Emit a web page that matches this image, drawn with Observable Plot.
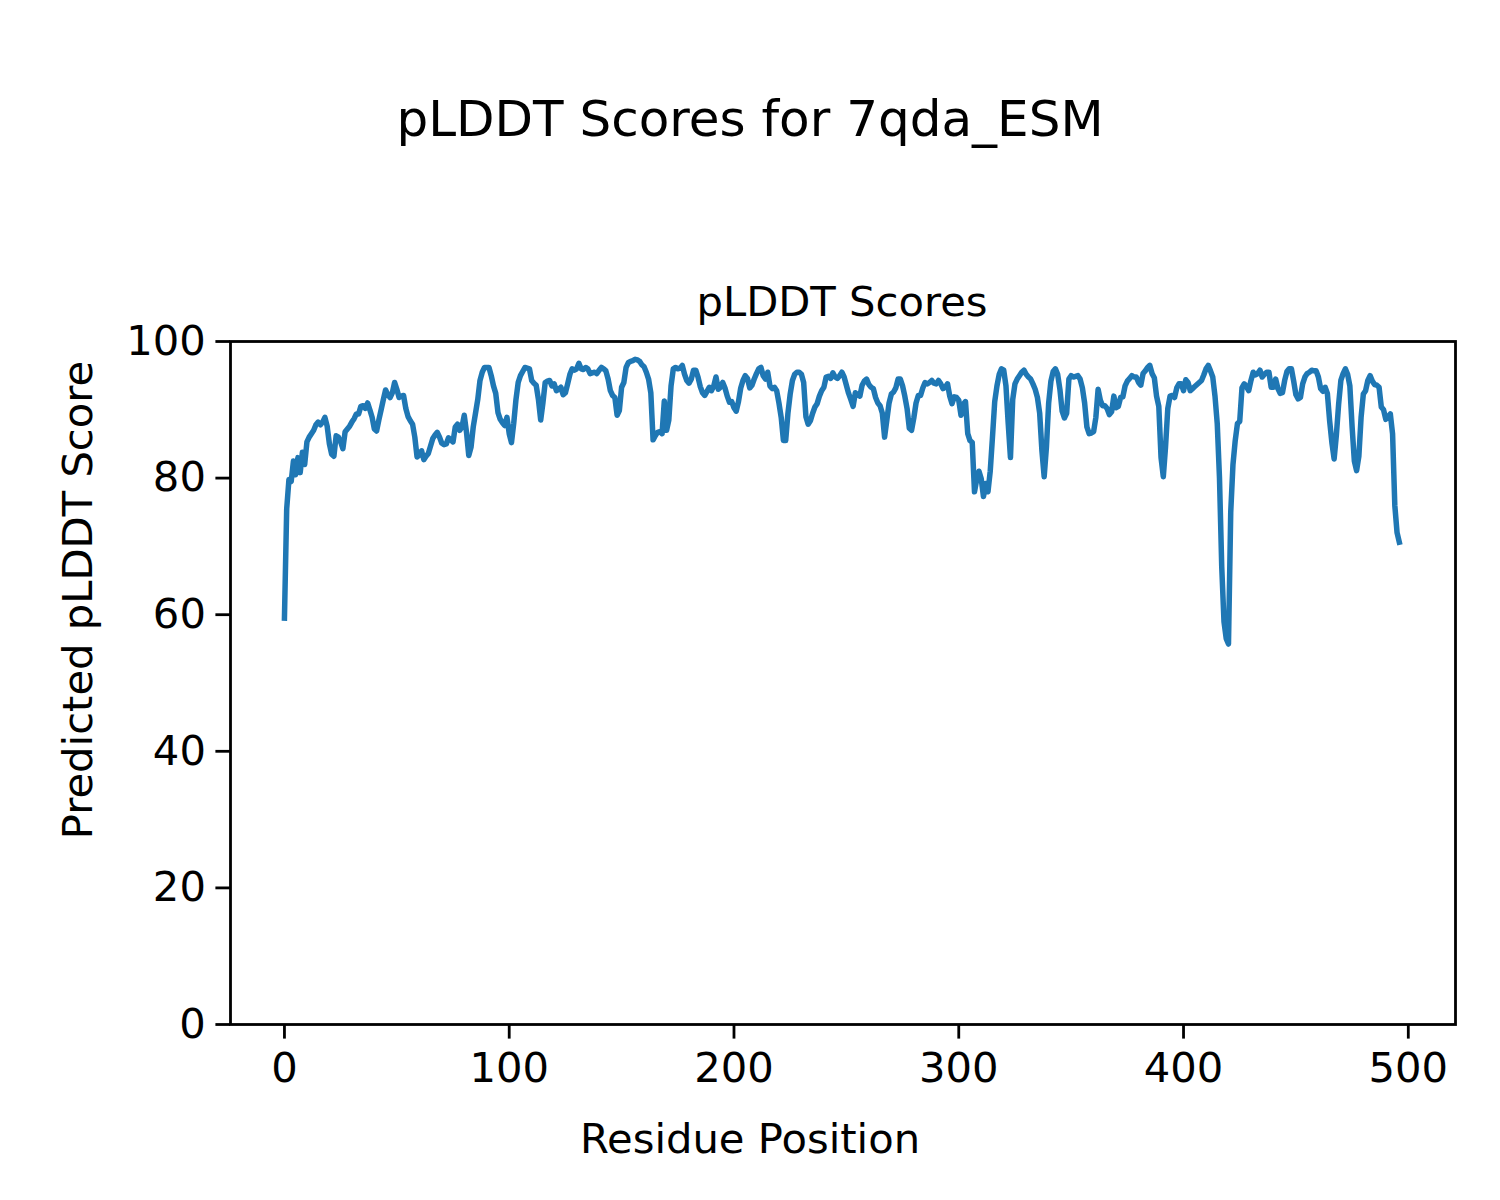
<!DOCTYPE html>
<html><head><meta charset="utf-8">
<script src="https://cdn.jsdelivr.net/npm/d3@7"></script>
<script src="https://cdn.jsdelivr.net/npm/@observablehq/plot@0.6"></script>
<style>
body{margin:0;background:#fff;}
#fig{position:relative;width:1500px;height:1200px;font-family:"DejaVu Sans",sans-serif;color:#000;overflow:hidden;}
#fig svg{position:absolute;left:0;top:0;}
.t{position:absolute;white-space:nowrap;transform:translate(-50%,-50%);line-height:1;}
</style></head><body>
<div id="fig"></div>
<script>
const figTitle = "pLDDT Scores for 7qda_ESM";
const axesTitle = "pLDDT Scores";
const xLabel = "Residue Position";
const yLabel = "Predicted pLDDT Score";
const xTicks = [0, 100, 200, 300, 400, 500];
const yTicks = [0, 20, 40, 60, 80, 100];
const scores = [
59.5,75.5,79.8,79.5,82.5,80.5,83,80.8,83.8,82,
85.3,86,86.5,87,87.8,88.2,87.8,88.2,88.9,87.6,
85,83.5,83.2,86.2,86,85.3,84.3,86.8,87.2,87.6,
88.2,88.7,89.4,89.4,90.5,90.6,90.2,91,90,88.9,
87.2,86.9,88.5,90,91.5,92.9,92.2,91.8,92.5,94,
93,91.8,92,92.1,90.2,89,88.4,87.9,86,83.1,
83.4,84,82.7,83.2,83.6,84.7,85.8,86.3,86.7,86,
85.1,84.9,85,85.9,85.6,85.3,87.5,87.9,87,87.5,
89.2,86.7,83.3,84.5,87.5,89.5,91.5,94.3,95.5,96.2,
96.2,96.2,95,93.5,92.4,89.6,88.6,88.1,87.7,88.9,
86.5,85.2,88,91.5,94,95,95.6,96.2,96.1,96,
94.3,93.9,93.6,91.5,88.5,91,94,94.2,94.3,93.5,
93.8,92.8,93,93.3,92.2,92.5,93.8,95.2,96,95.8,
96,96.8,96,95.9,96.2,96,95.3,95.4,95.5,95.3,
95.8,96.2,96,95.7,94.5,92.8,92.1,91.8,89.2,89.9,
93.3,94,96.2,96.9,97.1,97.2,97.4,97.3,97.1,96.6,
96.3,95.5,94.5,92.5,85.6,86.2,86.7,86.8,86.5,91.3,
87,88.5,93.5,96,96.2,96,96.1,96.5,95.2,94.3,
93.9,94.5,95.8,95.8,94.8,93.4,92.5,92.1,92.7,93.3,
92.8,93.5,94.8,93,93.3,94,93.2,92,91.1,91.2,
90.3,89.8,91.2,93.2,94.3,95,94.6,93.2,93.6,94.5,
95.3,96,96.2,95,94.5,95.5,93.5,93.1,93.3,92.8,
91,88.9,85.5,85.5,89.5,92.3,94.3,95.2,95.5,95.5,
95.2,94,89,87.9,88.4,89.5,90.4,90.9,92,92.8,
93.3,94.8,94.9,94.6,95.4,94.8,94.6,95,95.5,94.8,
93.6,92.4,91.5,90.5,92.5,92.2,92,93.6,94.2,94.5,
93.7,93.3,93.1,91.8,91,90.6,89.5,86,88.5,91,
92.3,92.6,93.2,94.5,94.5,93.5,92,90.2,87.3,87,
88.8,91,92.1,92.1,93.2,94,93.8,94,94.3,93.9,
93.8,94.3,93.8,93.1,93.3,93.8,92,90.9,91.9,91.8,
91.4,89.2,90.8,91.2,86.5,85.5,85.2,78,79.8,81,
79.9,77.3,79.2,78,81,86,91.2,93.5,95.2,96,
95.8,93.5,88,83,91.5,93.8,94.5,95,95.5,95.8,
95.2,94.8,94.5,93.8,93,91.8,89.5,84,80.2,84.5,
91,94.2,95.6,96,95.2,93,89.8,88.8,89.5,94.5,
95,94.8,94.9,95,94.5,93.2,91,87.5,86.5,86.6,
86.8,88.9,93,91.4,90.6,90.6,90.2,89.3,89.7,92,
90.3,90.5,91.8,91.9,93.5,94.2,94.6,95,94.8,94.8,
94,93.6,95.3,95.7,96.2,96.5,95.3,94.7,92,90.5,
83,80.2,84.6,90.2,92,92.1,91.8,93.2,93.8,93.8,
92.8,94.4,94,92.8,93.1,93.4,93.7,94,94.3,95.1,
96,96.5,95.7,94.8,92,88,80,67,59,56.5,
55.7,75,82,85.5,88,88.3,93.2,93.8,93.4,92.8,
94.3,95.5,95.1,95.3,95.8,94.8,95.2,95.5,95.5,93.3,
93.3,94.5,93.1,92.4,92.5,94.3,95.6,96,96,94.2,
92.2,91.6,91.8,93.8,94.8,95.3,95.5,95.8,95.7,95.7,
94.8,93.1,92.7,93.3,92.4,88.4,85.2,82.8,86.3,90.8,
94.3,95.3,96,95.2,93.5,87.5,82.5,81.1,83.2,88.9,
92.3,92.8,94.3,95,94.2,93.7,93.6,93.3,90.4,90,
88.6,89,89.4,86.5,76,72,70.6
];
const positions = scores.map((_, i) => i);
const data = positions.map((p, i) => ({pos: p, score: scores[i]}));

const fig = document.getElementById("fig");
const plot = Plot.plot({
  width: 1500, height: 1200,
  marginLeft: 230, marginRight: 45, marginTop: 341, marginBottom: 176,
  style: {fontFamily: "DejaVu Sans, sans-serif", fontSize: "41.7px", color: "#000", background: "transparent", overflow: "visible"},
  x: {domain: [-24, 521]},
  y: {domain: [0, 100]},
  marks: [
    Plot.line(data, {x: "pos", y: "score", stroke: "#1f77b4", strokeWidth: 5.5, strokeLinejoin: "round", strokeLinecap: "square"}),
    Plot.frame({stroke: "#000", strokeWidth: 2.8}),
    Plot.axisX(xTicks, {tickSize: 14.6, tickPadding: 13, strokeWidth: 2.8, label: null, fontSize: 41.7}),
    Plot.axisY(yTicks, {tickSize: 14.6, tickPadding: 10, strokeWidth: 2.8, label: null, fontSize: 41.7})
  ]
});
fig.appendChild(plot);

function addText(txt, x, y, size, rot) {
  const d = document.createElement("div");
  d.className = "t";
  d.textContent = txt;
  d.style.left = x + "px";
  d.style.top = y + "px";
  d.style.fontSize = size + "px";
  if (rot) d.style.transform = "translate(-50%,-50%) rotate(" + rot + "deg)";
  fig.appendChild(d);
}
addText(figTitle, 750, 119, 50);
addText(axesTitle, 842, 302, 41.7);
addText(xLabel, 750, 1139, 41.7);
addText(yLabel, 78, 600, 41.7, -90);
</script>
</body></html>
